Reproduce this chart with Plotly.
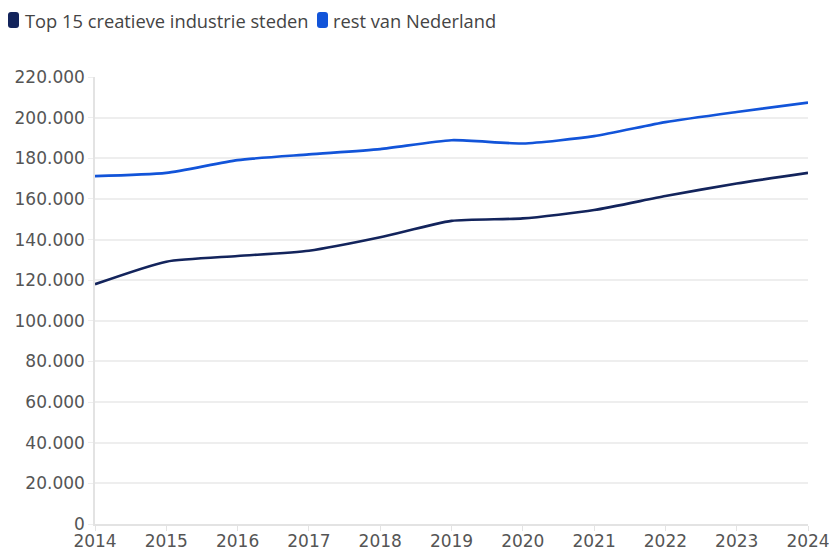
import plotly.graph_objects as go

years = [2014, 2015, 2016, 2017, 2018, 2019, 2020, 2021, 2022, 2023, 2024]
top15 = [118000, 129100, 131900, 134500, 141100, 149200, 150400, 154500, 161400, 167600, 172800]
rest_nl = [171200, 172800, 179100, 181900, 184500, 188900, 187300, 190900, 197800, 202800, 207400]
series_names = ["Top 15 creatieve industrie steden", "rest van Nederland"]
colors = ["#13245c", "#1254d9"]
y_ticks = list(range(0, 220001, 20000))

W, H = 829, 548
L, R, T, B = 95, 21, 77, 24
PW, PH = W - L - R, H - T - B
FONT = "Open Sans, Noto Sans, sans-serif"
TICK_FONT = dict(family="DejaVu Sans, sans-serif", size=17, color="#555555")

def px_x(px):
    return (px - L) / PW

def px_y(py):
    return (H - B - py) / PH

fig = go.Figure()
for name, vals, col in zip(series_names, [top15, rest_nl], colors):
    fig.add_trace(go.Scatter(x=years, y=vals, mode="lines", name=name,
                             line=dict(color=col, width=2.6, shape="spline", smoothing=0.6),
                             showlegend=False))

# custom legend: rounded markers + labels
legend_pos = [(8, 23), (317, 331)]
shapes, annotations = [], []
r = 3
w, h = 11, 16
rounded = (f"M {-w/2+r},{-h/2} L {w/2-r},{-h/2} Q {w/2},{-h/2} {w/2},{-h/2+r} "
           f"L {w/2},{h/2-r} Q {w/2},{h/2} {w/2-r},{h/2} L {-w/2+r},{h/2} "
           f"Q {-w/2},{h/2} {-w/2},{h/2-r} L {-w/2},{-h/2+r} Q {-w/2},{-h/2} {-w/2+r},{-h/2} Z")
for (mx, tx), name, col in zip(legend_pos, series_names, colors):
    shapes.append(dict(type="path", xref="paper", yref="paper",
                       xsizemode="pixel", ysizemode="pixel",
                       xanchor=px_x(mx + w / 2), yanchor=px_y(20),
                       path=rounded, fillcolor=col, line=dict(width=0)))
    annotations.append(dict(text=name, xref="paper", yref="paper",
                            x=px_x(tx), y=px_y(20), xanchor="left", yanchor="middle",
                            showarrow=False, font=dict(family=FONT, size=18.3, color="#444444")))

fig.update_layout(
    width=W, height=H,
    margin=dict(l=L, r=R, t=T, b=B),
    paper_bgcolor="white", plot_bgcolor="white",
    separators=",.",
    showlegend=False,
    font=dict(family=FONT, size=18, color="#555555"),
    shapes=shapes, annotations=annotations,
    xaxis=dict(range=[2014, 2024], tickvals=years, ticktext=[str(y) for y in years],
               showgrid=False, showline=True, linecolor="#e3e3e3", linewidth=1.5,
               ticks="outside", ticklen=5, tickcolor="#e3e3e3", automargin=False,
               zeroline=False, tickfont=TICK_FONT, ticklabeloverflow="allow",
               ticklabelstandoff=-4),
    yaxis=dict(range=[0, 220000], tickvals=y_ticks, tickformat=",d",
               showgrid=True, gridcolor="#eeeeee", gridwidth=1.5,
               showline=True, linecolor="#e3e3e3", linewidth=1.5,
               ticks="outside", ticklen=5, tickcolor="#eeeeee",
               automargin=False, zeroline=False, tickfont=TICK_FONT),
)

fig.write_html("out.html", config={"displayModeBar": False},
               post_script="document.body.style.margin='0';document.body.style.overflow='hidden';")
